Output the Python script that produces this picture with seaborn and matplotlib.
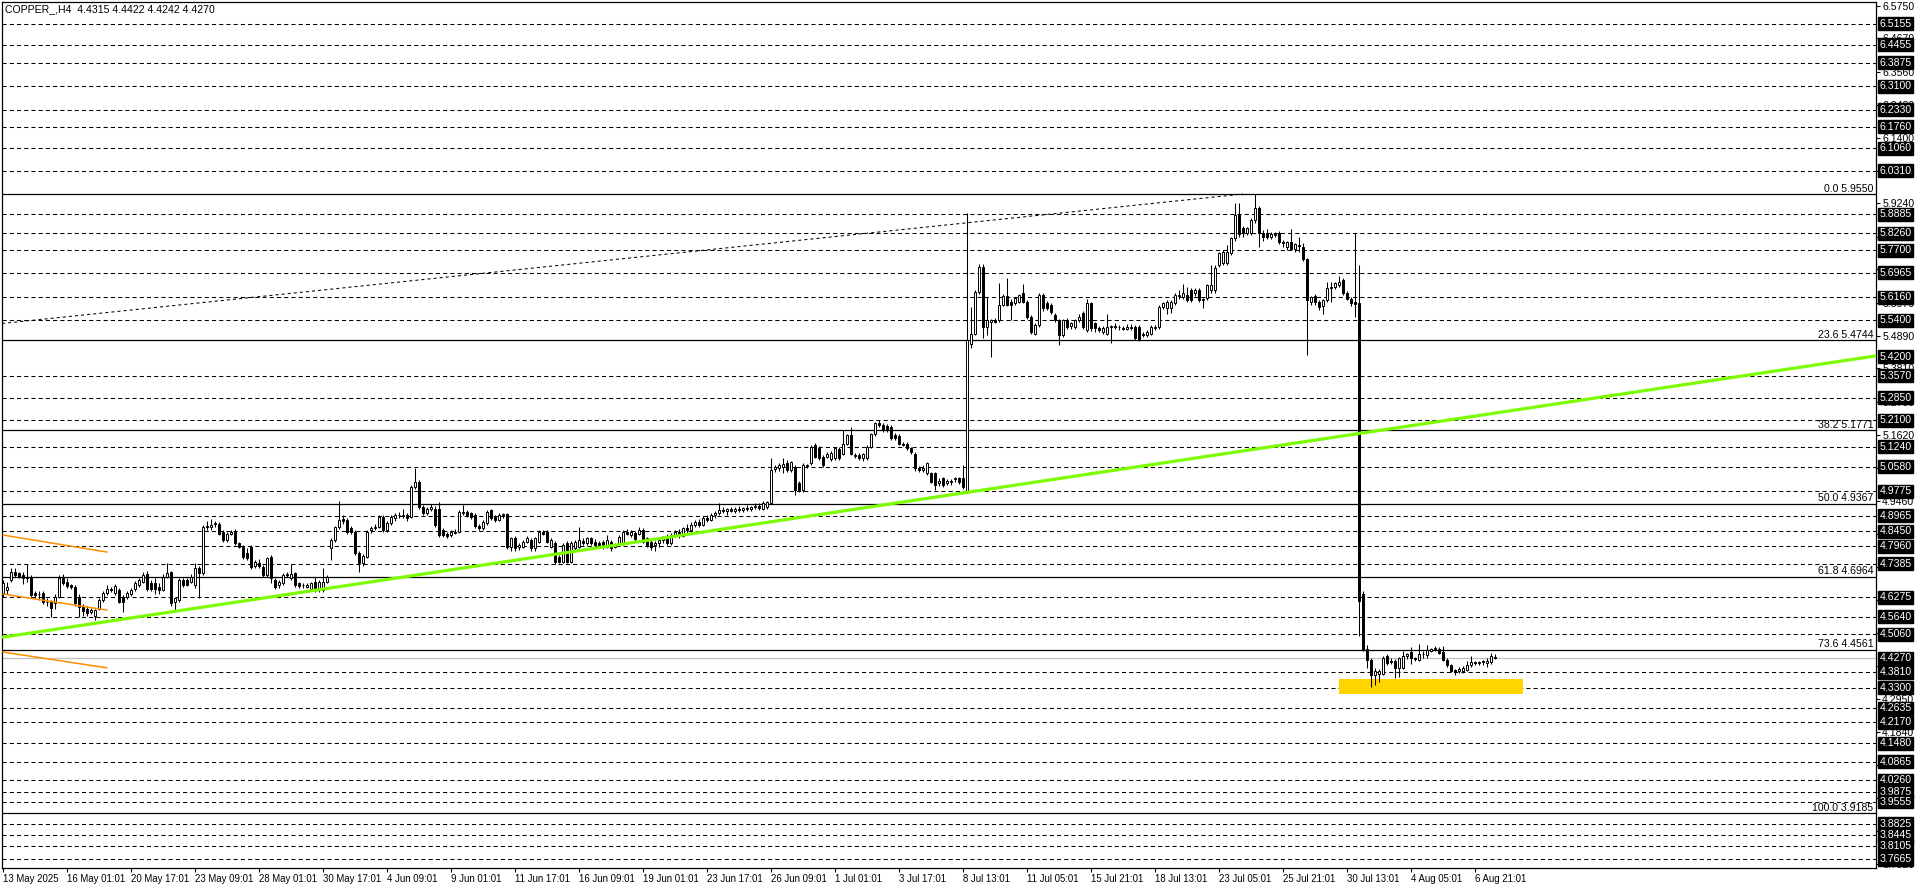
import numpy as np
import pandas as pd
import matplotlib
matplotlib.use('Agg')
import matplotlib.pyplot as plt
from matplotlib.patches import Rectangle
import seaborn as sns

# ── data: H4 candles (open, high, low, close) ────────────────────────────
bars_may = [
    (4.641,4.685,4.630,4.674),(4.652,4.680,4.640,4.663),(4.685,4.723,4.680,4.712),(4.712,4.726,4.695,4.701),
    (4.707,4.712,4.690,4.696),(4.701,4.710,4.672,4.690),(4.696,4.737,4.680,4.690),(4.696,4.700,4.630,4.636),
    (4.641,4.650,4.625,4.636),(4.638,4.648,4.620,4.640),(4.641,4.648,4.605,4.614),(4.614,4.625,4.600,4.612),
    (4.614,4.620,4.562,4.592),(4.610,4.640,4.590,4.630),(4.630,4.700,4.625,4.690),(4.690,4.704,4.668,4.674),
    (4.679,4.690,4.660,4.666),(4.668,4.672,4.655,4.663),(4.663,4.668,4.600,4.608),(4.630,4.640,4.564,4.597),
    (4.597,4.605,4.566,4.582),(4.591,4.598,4.566,4.575),(4.580,4.592,4.572,4.586),(4.567,4.590,4.555,4.586),
    (4.589,4.625,4.585,4.619),(4.619,4.648,4.612,4.641),(4.641,4.670,4.635,4.657),(4.657,4.662,4.645,4.652),
    (4.641,4.672,4.636,4.665),(4.652,4.660,4.608,4.614),(4.630,4.636,4.580,4.614),(4.630,4.648,4.622,4.641),
    (4.639,4.660,4.632,4.652),(4.657,4.682,4.650,4.674),(4.668,4.692,4.662,4.685),(4.679,4.710,4.675,4.701),
    (4.704,4.715,4.650,4.657),(4.676,4.684,4.650,4.657),(4.676,4.690,4.640,4.657),(4.663,4.676,4.640,4.652),
    (4.652,4.705,4.648,4.696),(4.696,4.740,4.690,4.709),(4.712,4.716,4.600,4.608),(4.614,4.630,4.580,4.625),
    (4.619,4.690,4.614,4.685),(4.685,4.690,4.662,4.668),(4.685,4.692,4.664,4.670),(4.680,4.704,4.675,4.696),
    (4.668,4.742,4.660,4.725),(4.725,4.732,4.625,4.707),(4.707,4.866,4.700,4.860),(4.862,4.880,4.850,4.858),
    (4.860,4.885,4.850,4.866),(4.870,4.878,4.858,4.871),(4.869,4.875,4.832,4.838),(4.844,4.850,4.810,4.816),
    (4.815,4.842,4.810,4.838),(4.838,4.850,4.832,4.842),(4.844,4.852,4.800,4.806),(4.806,4.810,4.790,4.795),
    (4.795,4.800,4.755,4.762),(4.773,4.790,4.750,4.757),(4.795,4.800,4.720,4.729),(4.730,4.752,4.725,4.745),
]
bars_jun = [
    (4.742,4.755,4.725,4.732),(4.729,4.735,4.695,4.701),(4.701,4.762,4.695,4.757),(4.762,4.768,4.674,4.690),
    (4.685,4.690,4.657,4.663),(4.668,4.685,4.660,4.679),(4.676,4.707,4.670,4.701),(4.701,4.712,4.695,4.704),
    (4.690,4.737,4.685,4.704),(4.707,4.712,4.662,4.668),(4.674,4.680,4.660,4.665),(4.668,4.674,4.660,4.668),
    (4.663,4.676,4.658,4.668),(4.657,4.680,4.650,4.674),(4.679,4.696,4.645,4.652),(4.652,4.684,4.646,4.679),
    (4.652,4.723,4.646,4.679),(4.679,4.700,4.674,4.696),(4.789,4.822,4.751,4.816),(4.816,4.862,4.810,4.858),
    (4.858,4.945,4.852,4.884),(4.886,4.900,4.870,4.879),(4.882,4.890,4.838,4.844),(4.855,4.862,4.838,4.844),
    (4.844,4.850,4.768,4.773),(4.773,4.780,4.712,4.740),(4.740,4.770,4.732,4.764),(4.762,4.850,4.758,4.844),
    (4.849,4.862,4.840,4.855),(4.855,4.868,4.848,4.860),(4.860,4.898,4.855,4.893),(4.893,4.898,4.842,4.849),
    (4.849,4.878,4.842,4.871),(4.871,4.898,4.865,4.893),(4.888,4.905,4.880,4.898),(4.898,4.908,4.890,4.900),
    (4.895,4.917,4.888,4.900),(4.898,4.905,4.880,4.888),(4.893,4.998,4.888,4.992),(4.992,5.055,4.985,5.009),
    (5.009,5.015,4.920,4.926),(4.926,4.932,4.898,4.904),(4.906,4.926,4.898,4.920),(4.920,4.935,4.912,4.925),
    (4.920,4.930,4.860,4.866),(4.920,4.942,4.826,4.833),(4.849,4.855,4.826,4.833),(4.838,4.844,4.822,4.830),
    (4.833,4.850,4.828,4.844),(4.840,4.852,4.835,4.844),(4.844,4.915,4.840,4.910),(4.910,4.932,4.900,4.906),
    (4.910,4.915,4.893,4.899),(4.904,4.910,4.886,4.893),(4.899,4.904,4.855,4.862),(4.862,4.868,4.848,4.855),
    (4.855,4.882,4.850,4.877),(4.871,4.915,4.866,4.910),(4.915,4.920,4.882,4.888),(4.893,4.898,4.876,4.882),
    (4.884,4.904,4.878,4.898),(4.898,4.906,4.890,4.902),(4.901,4.906,4.788,4.795),(4.795,4.828,4.780,4.822),
    (4.822,4.830,4.782,4.789),(4.795,4.806,4.785,4.800),(4.795,4.818,4.790,4.811),(4.811,4.830,4.806,4.822),
    (4.816,4.822,4.782,4.789),(4.789,4.828,4.782,4.822),(4.811,4.848,4.806,4.842),(4.842,4.850,4.832,4.838),
    (4.842,4.848,4.806,4.811),(4.795,4.822,4.790,4.816),(4.806,4.812,4.738,4.745),(4.762,4.768,4.740,4.745),
    (4.745,4.806,4.740,4.800),(4.806,4.812,4.740,4.745),(4.745,4.812,4.740,4.806),(4.789,4.816,4.784,4.811),
    (4.795,4.858,4.790,4.816),(4.814,4.822,4.800,4.806),(4.806,4.828,4.800,4.822),(4.822,4.828,4.800,4.806),
    (4.811,4.820,4.795,4.800),(4.806,4.812,4.794,4.800),(4.811,4.816,4.788,4.795),(4.795,4.834,4.790,4.816),
    (4.811,4.816,4.782,4.789),(4.795,4.806,4.790,4.800),(4.803,4.832,4.798,4.827),(4.806,4.850,4.800,4.844),
    (4.844,4.852,4.832,4.838),(4.833,4.850,4.828,4.844),(4.841,4.846,4.812,4.819),(4.838,4.858,4.832,4.849),
    (4.849,4.855,4.806,4.811),(4.822,4.828,4.795,4.800),(4.811,4.816,4.785,4.795),(4.800,4.812,4.780,4.806),
    (4.806,4.822,4.795,4.816),(4.816,4.830,4.806,4.822),(4.822,4.835,4.800,4.806),(4.806,4.840,4.800,4.833),
    (4.833,4.850,4.825,4.844),(4.844,4.852,4.822,4.830),(4.830,4.860,4.826,4.855),(4.855,4.868,4.840,4.848),
    (4.848,4.875,4.844,4.866),(4.866,4.882,4.858,4.877),(4.877,4.885,4.860,4.866),(4.866,4.895,4.862,4.888),
    (4.888,4.900,4.875,4.882),(4.882,4.905,4.878,4.899),(4.899,4.912,4.890,4.904),(4.904,4.940,4.898,4.915),
    (4.915,4.925,4.905,4.912),(4.912,4.922,4.900,4.918),(4.918,4.926,4.908,4.913),(4.913,4.924,4.905,4.920),
    (4.920,4.930,4.910,4.916),(4.916,4.926,4.908,4.921),(4.921,4.932,4.912,4.918),(4.918,4.930,4.912,4.925),
    (4.925,4.940,4.918,4.930),(4.930,4.938,4.915,4.922),(4.920,4.944,4.915,4.937),(4.925,4.946,4.918,4.942),
]
bars_jul_a = [
    (4.940,5.085,4.935,5.047),(5.049,5.062,5.040,5.056),(5.052,5.070,5.045,5.063),(5.058,5.085,5.036,5.068),
    (5.071,5.080,5.040,5.047),(5.047,5.078,5.040,5.074),(5.058,5.064,4.965,4.981),(5.003,5.010,4.975,4.981),
    (4.981,5.070,4.976,5.063),(5.060,5.068,5.052,5.062),(5.070,5.128,5.065,5.123),(5.129,5.135,5.085,5.090),
    (5.118,5.125,5.080,5.085),(5.090,5.095,5.058,5.063),(5.090,5.105,5.085,5.101),(5.082,5.108,5.075,5.104),
    (5.085,5.120,5.080,5.118),(5.115,5.122,5.080,5.088),(5.101,5.178,5.095,5.134),(5.134,5.165,5.128,5.162),
    (5.162,5.187,5.095,5.101),(5.096,5.104,5.088,5.092),(5.096,5.102,5.080,5.085),(5.085,5.104,5.078,5.098),
    (5.085,5.128,5.080,5.123),(5.123,5.170,5.118,5.167),(5.167,5.206,5.160,5.200),(5.200,5.210,5.190,5.196),
    (5.195,5.202,5.172,5.178),(5.192,5.198,5.172,5.178),(5.189,5.195,5.145,5.151),(5.162,5.170,5.145,5.151),
    (5.158,5.164,5.128,5.134),(5.134,5.140,5.125,5.130),(5.134,5.140,5.112,5.118),(5.118,5.124,5.100,5.107),
    (5.101,5.106,5.045,5.052),(5.052,5.060,5.040,5.047),(5.047,5.062,5.040,5.055),(5.036,5.072,5.030,5.069),
    (5.036,5.042,5.005,5.008),(5.036,5.040,4.981,4.998),(5.003,5.020,4.995,5.012),(5.019,5.025,4.992,4.998),
    (5.003,5.016,4.996,5.010),(5.006,5.018,4.998,5.012),(5.019,5.024,5.008,5.017),(5.019,5.025,5.000,5.008),
    (5.019,5.063,4.985,4.992),
]
bars_jul_b = [
    (4.976,5.891,4.970,5.474),(5.463,5.584,5.447,5.496),(5.496,5.640,5.490,5.633),(5.633,5.725,5.625,5.716),
    (5.716,5.725,5.480,5.518),(5.518,5.617,5.490,5.540),(5.535,5.545,5.420,5.540),(5.540,5.548,5.530,5.535),
    (5.540,5.661,5.535,5.590),(5.590,5.625,5.585,5.619),(5.619,5.677,5.585,5.590),(5.601,5.608,5.540,5.590),
    (5.595,5.615,5.590,5.612),(5.600,5.625,5.595,5.622),(5.628,5.659,5.596,5.601),(5.601,5.606,5.545,5.551),
    (5.551,5.556,5.495,5.502),(5.496,5.530,5.490,5.524),(5.524,5.630,5.518,5.622),(5.622,5.630,5.570,5.579),
    (5.595,5.602,5.574,5.579),(5.590,5.596,5.560,5.568),(5.557,5.565,5.535,5.540),(5.540,5.545,5.458,5.491),
    (5.491,5.545,5.485,5.540),(5.540,5.548,5.512,5.518),(5.520,5.535,5.510,5.530),(5.518,5.545,5.512,5.540),
    (5.540,5.560,5.535,5.551),(5.562,5.570,5.512,5.518),(5.507,5.610,5.500,5.595),(5.595,5.600,5.505,5.513),
    (5.529,5.535,5.500,5.513),(5.513,5.520,5.502,5.507),(5.502,5.520,5.495,5.513),(5.496,5.560,5.490,5.518),
    (5.516,5.525,5.464,5.520),(5.520,5.530,5.510,5.516),(5.517,5.524,5.508,5.518),(5.514,5.522,5.506,5.512),
    (5.512,5.526,5.508,5.519),(5.518,5.526,5.508,5.514),(5.518,5.524,5.475,5.480),(5.518,5.524,5.470,5.475),
    (5.496,5.502,5.485,5.492),(5.491,5.508,5.485,5.502),(5.496,5.524,5.490,5.518),(5.513,5.524,5.508,5.518),
    (5.518,5.590,5.512,5.584),(5.584,5.600,5.578,5.595),(5.579,5.605,5.560,5.601),(5.579,5.606,5.565,5.601),
    (5.595,5.630,5.590,5.622),(5.620,5.640,5.610,5.623),(5.617,5.660,5.610,5.628),(5.622,5.650,5.600,5.606),
    (5.639,5.645,5.600,5.606),(5.628,5.645,5.620,5.639),(5.639,5.645,5.600,5.606),(5.606,5.612,5.580,5.610),
    (5.612,5.660,5.605,5.655),(5.639,5.720,5.630,5.655),(5.639,5.720,5.630,5.710),(5.721,5.765,5.715,5.760),
    (5.727,5.770,5.720,5.765),(5.727,5.787,5.720,5.765),(5.760,5.815,5.755,5.809),(5.809,5.924,5.800,5.886),
    (5.886,5.924,5.815,5.825),(5.842,5.850,5.815,5.826),(5.826,5.848,5.820,5.842),(5.826,5.875,5.820,5.869),
    (5.869,5.955,5.860,5.908),(5.908,5.915,5.782,5.826),(5.826,5.835,5.800,5.815),(5.826,5.840,5.808,5.815),
    (5.815,5.830,5.808,5.823),(5.822,5.830,5.812,5.820),(5.826,5.832,5.790,5.798),(5.798,5.805,5.780,5.793),
    (5.780,5.800,5.770,5.797),(5.797,5.840,5.770,5.775),(5.775,5.795,5.765,5.792),(5.788,5.815,5.763,5.785),
    (5.780,5.795,5.735,5.741),(5.741,5.745,5.424,5.605),(5.599,5.620,5.590,5.616),(5.620,5.625,5.590,5.599),
    (5.599,5.605,5.575,5.583),(5.588,5.610,5.560,5.605),(5.605,5.667,5.600,5.645),(5.645,5.667,5.600,5.648),
    (5.648,5.665,5.642,5.662),(5.656,5.684,5.650,5.667),(5.671,5.680,5.622,5.628),(5.630,5.636,5.605,5.611),
    (5.611,5.615,5.585,5.596),(5.599,5.826,5.549,5.594),
]
bars_aug = [
    (5.596,5.721,4.502,4.616),(4.638,4.650,4.450,4.457),(4.457,4.470,4.395,4.423),(4.423,4.428,4.333,4.372),
    (4.372,4.395,4.338,4.384),(4.375,4.392,4.350,4.386),(4.375,4.435,4.372,4.429),(4.435,4.442,4.405,4.412),
    (4.420,4.428,4.408,4.414),(4.420,4.425,4.363,4.395),(4.397,4.432,4.367,4.429),(4.397,4.452,4.392,4.435),
    (4.435,4.446,4.425,4.442),(4.449,4.466,4.410,4.427),(4.427,4.432,4.418,4.424),(4.423,4.476,4.418,4.442),
    (4.440,4.450,4.430,4.441),(4.437,4.472,4.430,4.454),(4.452,4.462,4.448,4.457),(4.457,4.469,4.452,4.461),
    (4.457,4.465,4.440,4.446),(4.448,4.469,4.418,4.423),(4.423,4.428,4.400,4.404),(4.404,4.410,4.383,4.387),
    (4.389,4.393,4.372,4.381),(4.384,4.398,4.378,4.393),(4.386,4.402,4.380,4.397),(4.389,4.418,4.385,4.406),
    (4.406,4.435,4.400,4.414),(4.414,4.420,4.405,4.412),(4.412,4.420,4.405,4.414),(4.414,4.422,4.405,4.418),
    (4.412,4.428,4.400,4.420),(4.416,4.446,4.410,4.435),(4.4315,4.4422,4.4242,4.4270),
]

date_labels = ["13 May 2025", "16 May 01:01", "20 May 17:01", "23 May 09:01", "28 May 01:01",
               "30 May 17:01", "4 Jun 09:01", "9 Jun 01:01", "11 Jun 17:01", "16 Jun 09:01",
               "19 Jun 01:01", "23 Jun 17:01", "26 Jun 09:01", "1 Jul 01:01", "3 Jul 17:01",
               "8 Jul 13:01", "11 Jul 05:01", "15 Jul 21:01", "18 Jul 13:01", "23 Jul 05:01",
               "25 Jul 21:01", "30 Jul 13:01", "4 Aug 05:01", "6 Aug 21:01"]
label_step = 16  # bars between time labels

# price scale steps; the ones fully covered by a line label carry no text
scale_ticks = [6.5750, 6.4670, 6.3560, 6.2480, 6.1400, 6.0310, 5.9240, 5.8150, 5.7070, 5.5970,
               5.4890, 5.3810, 5.2700, 5.1620, 5.0540, 4.9460, 4.8370, 4.7270, 4.6190, 4.5100,
               4.4010, 4.2950, 4.1840, 4.0760, 3.9680, 3.8590, 3.7520]
hidden_ticks = [6.0310, 5.7070, 5.0540, 4.8370, 4.6190, 4.5100, 4.4010, 3.9680, 3.8590]
hline_levels = [6.5155, 6.4455, 6.3875, 6.3100, 6.2330, 6.1760, 6.1060, 6.0310, 5.8885, 5.8260,
                5.7700, 5.6965, 5.6160, 5.5400, 5.3570, 5.2850, 5.2100, 5.1240, 5.0580, 4.9775,
                4.8965, 4.8450, 4.7960, 4.7385, 4.6275, 4.5640, 4.5060, 4.3810, 4.3300, 4.2635,
                4.2170, 4.1480, 4.0865, 4.0260, 3.9875, 3.9555, 3.8825, 3.8445, 3.8105, 3.7665]
trend_label = 5.4200
last_price = 4.4270

fib_pct = ["0.0", "23.6", "38.2", "50.0", "61.8", "73.6", "100.0"]
fib_price = [5.9550, 5.4744, 5.1771, 4.9367, 4.6964, 4.4561, 3.9185]

green_x, green_y = [0, 468], [4.497, 5.422]
dotted_x, dotted_y = [-0.25, 310], [5.529, 5.955]
orange_x = [0, 26]
orange_up, orange_mid, orange_low = [4.833, 4.777], [4.639, 4.586], [4.448, 4.396]
zone_x, zone_y = [334, 380], [4.310, 4.359]

title = "COPPER_,H4  4.4315 4.4422 4.4242 4.4270"

# ── frame ───────────────────────────────────────────────
df = pd.DataFrame(bars_may + bars_jun + bars_jul_a + bars_jul_b + bars_aug,
                  columns=['open', 'high', 'low', 'close'])
df['bar'] = np.arange(len(df))
df['up'] = df['close'] >= df['open']

sns.set_style('white')
plt.rcParams['font.family'] = ['Liberation Sans', 'DejaVu Sans']
plt.rcParams['lines.scale_dashes'] = False
FS = 7.6      # price scale / title
FS_T = 6.9    # time scale

W, H = 1916, 888
fig = plt.figure(figsize=(W / 100, H / 100), dpi=100)
ax = fig.add_axes([2 / W, 20 / H, 1874 / W, 866 / H])
ax.set_facecolor('white')
ax.set_xlim(-0.25, 468.25)
ax.set_ylim(3.7375, 6.5867)

# horizontal objects
for p in hline_levels:
    ax.axhline(p, color='black', lw=0.75, ls=(0, (3.0, 2.2)), zorder=1)
for p in fib_price:
    ax.axhline(p, color='black', lw=0.9, zorder=1)
ax.axhline(last_price, color='#c0c0c0', lw=0.9, zorder=1)

ax.add_patch(Rectangle((zone_x[0], zone_y[0]), zone_x[1] - zone_x[0], zone_y[1] - zone_y[0],
                       facecolor='#ffd500', edgecolor='none', zorder=1.5))

# candles
ax.vlines(df['bar'], df['low'], df['high'], color='black', lw=0.75, zorder=3)
body = (df['close'] - df['open']).abs().clip(lower=0.0012)
ax.bar(df['bar'], body, bottom=df[['open', 'close']].min(axis=1), width=0.55,
       color=np.where(df['up'], 'white', 'black'), edgecolor='black', lw=0.7, zorder=3.5)

# trendlines
sns.lineplot(x=green_x, y=green_y, ax=ax, color='#7cfc00', lw=2.3, zorder=4)
sns.lineplot(x=dotted_x, y=dotted_y, ax=ax, color='black', lw=0.75, ls=(0, (2.2, 2.2)), zorder=4)
for oy in (orange_up, orange_mid, orange_low):
    sns.lineplot(x=orange_x, y=oy, ax=ax, color='#ff8c00', lw=1.1, zorder=4)

# fibo labels
for pct, p in zip(fib_pct, fib_price):
    ax.text(467.6, p + 0.001, f"{pct} {p:.4f}", ha='right', va='bottom', fontsize=FS,
            color='black', zorder=6)

# price scale
ax.yaxis.tick_right()
ax.set_yticks(scale_ticks)
ax.set_yticklabels(["" if v in hidden_ticks else f"{v:.4f}" for v in scale_ticks])
ax.tick_params(axis='y', right=True, left=False, direction='out', length=3, width=0.8,
               pad=1.5, labelsize=FS, colors='black')
for p in hline_levels + [trend_label, last_price]:
    ax.text(469.1, p, f"{p:.4f}", ha='left', va='center', fontsize=FS, color='white',
            bbox=dict(boxstyle='square,pad=0.14', fc='black', ec='black'),
            clip_on=False, zorder=10)

# time scale
ax.set_xticks([label_step * i for i in range(len(date_labels))])
ax.set_xticklabels(date_labels, ha='left')
ax.tick_params(axis='x', bottom=True, direction='out', length=3, width=0.8, pad=1.5,
               labelsize=FS_T, colors='black')

for s in ax.spines.values():
    s.set_color('black')
    s.set_linewidth(0.9)
ax.grid(False)
if ax.get_legend():
    ax.get_legend().remove()
ax.set_xlabel('')
ax.set_ylabel('')

fig.text(5 / W, 1 - 9 / H, title, ha='left', va='center', fontsize=FS, color='black')

fig.savefig('out.png', dpi=100, facecolor='white')
